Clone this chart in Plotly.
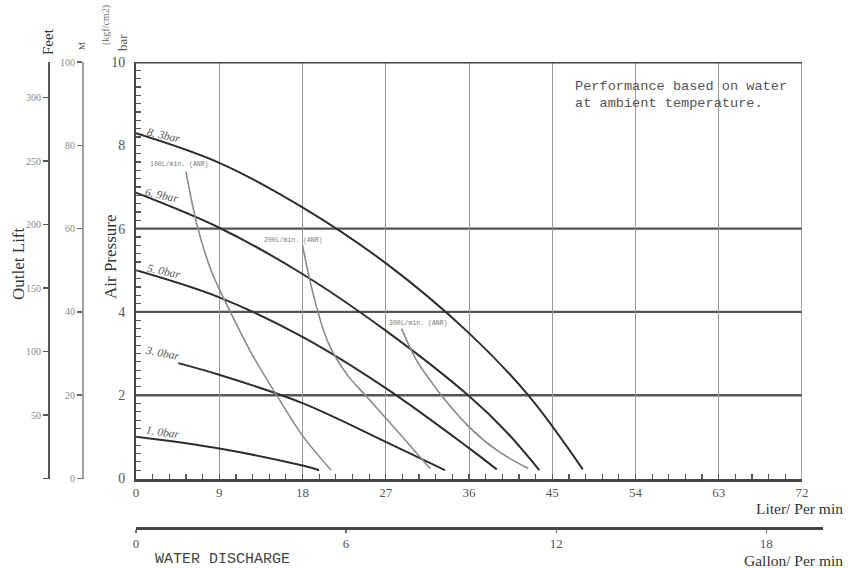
import plotly.graph_objects as go

# ---------------- data ----------------
# pump performance curves: flow (L/min) vs outlet pressure (bar) for each air pressure
curve_names = ["8. 3bar", "6. 9bar", "5. 0bar", "3. 0bar", "1. 0bar"]
flow_83 = [0, 9, 18, 27, 36, 42.4, 48.3]
pres_83 = [8.29, 7.58, 6.51, 5.17, 3.49, 2.0, 0.22]
flow_69 = [0, 9, 18, 27, 36, 40.0, 43.6]
pres_69 = [6.86, 6.02, 4.91, 3.55, 1.98, 1.13, 0.2]
flow_50 = [0, 9, 18, 27, 36, 39.0]
pres_50 = [5.0, 4.35, 3.40, 2.17, 0.73, 0.22]
flow_30 = [4.57, 9, 18, 27, 33.4]
pres_30 = [2.77, 2.49, 1.81, 0.88, 0.2]
flow_10 = [0, 9, 18, 19.8]
pres_10 = [1.0, 0.72, 0.31, 0.2]

# air consumption curves
air_names = ["100L/min. (ANR)", "200L/min. (ANR)", "300L/min. (ANR)"]
air100_flow = [5.4, 6.7, 8.2, 10.2, 12.5, 15.2, 18.1, 21.1]
air100_pres = [7.37, 6.0, 4.95, 4.0, 3.0, 2.0, 1.0, 0.2]
air200_flow = [18.0, 19.3, 20.8, 22.8, 25.0, 28.0, 31.8]
air200_pres = [5.6, 4.3, 3.25, 2.5, 1.95, 1.2, 0.24]
air300_flow = [28.7, 30.3, 31.8, 33.0, 36.0, 39.0, 42.4]
air300_pres = [3.6, 2.85, 2.36, 2.0, 1.24, 0.68, 0.24]

# label anchor points (flow, pressure) and slant
curve_label_flow = [3.0, 2.8, 3.0, 2.9, 2.9]
curve_label_pres = [8.25, 6.8, 4.98, 3.01, 1.12]
curve_label_angle = [13, 12, 12, 11, 8]
air_label_flow = [4.75, 17.0, 30.5]
air_label_pres = [7.53, 5.71, 3.73]

# axes
liter_ticks = [0, 9, 18, 27, 36, 45, 54, 63, 72]
pressure_ticks = [0, 2, 4, 6, 8, 10]
pressure_grid = [2, 4, 6]
meter_ticks = [0, 20, 40, 60, 80, 100]
feet_ticks = [0, 50, 100, 150, 200, 250, 300]
feet_labels = ["", "50", "100", "150", "200", "250", "300"]
gallon_ticks = [0, 6, 12, 18]

M_PER_BAR = 10.0
FT_PER_M = 3.28084
L_PER_GAL = 3.78541

# ---------------- layout frame (window pixels) ----------------
W, H = 848, 568
PL, PR, PT, PB = 136, 802, 62, 478.5
GAL_R = 823
px = lambda v: v / W
py = lambda v: 1 - v / H

x_dom = [px(PL), px(PR)]
y_dom = [py(PB), py(PT)]
liter_max = liter_ticks[-1]
gal_max = (GAL_R - PL) * liter_max / (PR - PL) / L_PER_GAL

serif = "Liberation Serif"
mono = "Liberation Mono"

fig = go.Figure()

curves = [(flow_83, pres_83), (flow_69, pres_69), (flow_50, pres_50),
          (flow_30, pres_30), (flow_10, pres_10)]
for (fx, fy), nm in zip(curves, curve_names):
    fig.add_trace(go.Scatter(x=fx, y=fy, mode="lines", name=nm,
                             line=dict(color="#2e2e2e", width=2, shape="spline", smoothing=1.0),
                             showlegend=False, hoverinfo="skip"))

airs = [(air100_flow, air100_pres), (air200_flow, air200_pres), (air300_flow, air300_pres)]
for (fx, fy), nm in zip(airs, air_names):
    fig.add_trace(go.Scatter(x=fx, y=fy, mode="lines", name=nm,
                             line=dict(color="#8a8a8a", width=1.6, shape="spline", smoothing=1.0),
                             showlegend=False, hoverinfo="skip"))

# invisible carriers so the secondary scales are rendered
fig.add_trace(go.Scatter(x=[0], y=[0], yaxis="y2", mode="markers",
                         marker=dict(opacity=0), showlegend=False, hoverinfo="skip"))
fig.add_trace(go.Scatter(x=[0], y=[0], yaxis="y3", mode="markers",
                         marker=dict(opacity=0), showlegend=False, hoverinfo="skip"))
fig.add_trace(go.Scatter(x=[0], y=[0], xaxis="x2", yaxis="y", mode="markers",
                         marker=dict(opacity=0), showlegend=False, hoverinfo="skip"))

# horizontal grid lines & frame
for lv in pressure_grid:
    fig.add_shape(type="line", xref="x domain", x0=0, x1=1, yref="y", y0=lv, y1=lv,
                  line=dict(color="#555555", width=2.4), layer="below")
fig.add_shape(type="line", xref="x domain", x0=0, x1=1, yref="y",
              y0=pressure_ticks[-1], y1=pressure_ticks[-1],
              line=dict(color="#444444", width=3), layer="above")
fig.add_shape(type="line", xref="x", x0=liter_max, x1=liter_max, yref="y domain", y0=0, y1=1,
              line=dict(color="#777777", width=1.3), layer="below")

ann = []
for nm, fx, fy, ang in zip(curve_names, curve_label_flow, curve_label_pres, curve_label_angle):
    ann.append(dict(x=fx, y=fy, xref="x", yref="y", text=f"<i>{nm}</i>", showarrow=False,
                    textangle=ang, font=dict(family=serif, size=11.5, color="#555555")))
for nm, fx, fy in zip(air_names, air_label_flow, air_label_pres):
    ann.append(dict(x=fx, y=fy, xref="x", yref="y", text=nm, showarrow=False,
                    font=dict(family=mono, size=6.5, color="#777777")))

def pa(text, x, y, size, color="#333333", angle=0, xa="center", family=serif):
    ann.append(dict(x=px(x), y=py(y), xref="paper", yref="paper", text=text, showarrow=False,
                    textangle=angle, xanchor=xa, yanchor="middle",
                    font=dict(family=family, size=size, color=color)))

pa("Feet", 48, 42, 15, "#333333", -90)
pa("M", 82, 46, 9, "#555555", -90)
pa("Outlet Lift", 18, 264, 17, "#333333", -90)
pa("Air Pressure", 110, 257, 17, "#333333", -90)
pa("(kgf/cm2)", 106, 25, 10, "#777777", -90)
pa("bar", 123, 43, 13, "#555555", -90)
pa("Liter/ Per min", 845, 508, 15.5, "#333333", 0, "right")
pa("Gallon/ Per min", 845, 560, 15.5, "#333333", 0, "right")
pa("WATER DISCHARGE", 153, 559, 15, "#444444", 0, "left", mono)
pa("Performance based on water", 573, 87, 13.6, "#555555", 0, "left", mono)
pa("at ambient temperature.", 573, 104, 13.6, "#555555", 0, "left", mono)

tickfont_main = dict(family=serif, size=13, color="#555555")
tickfont_small = dict(family=serif, size=10, color="#888888")

fig.update_layout(
    width=W, height=H,
    margin=dict(l=0, r=0, t=0, b=0, pad=0),
    paper_bgcolor="white", plot_bgcolor="rgba(0,0,0,0)",
    showlegend=False,
    annotations=ann,
    xaxis=dict(domain=x_dom, range=[0, liter_max], tickmode="linear", tick0=0, dtick=9,
               showgrid=True, gridcolor="#999999", gridwidth=1, zeroline=False,
               showline=True, linecolor="#444444", linewidth=3,
               ticks="inside", ticklen=5, tickcolor="#555555", tickwidth=1.2,
               minor=dict(dtick=1.8, ticks="inside", ticklen=5, tickcolor="#555555",
                          tickwidth=1.2, showgrid=False),
               tickfont=tickfont_main, anchor="y", automargin=False, fixedrange=True),
    yaxis=dict(domain=y_dom, range=[0, pressure_ticks[-1]], tickmode="linear", tick0=0, dtick=2,
               showgrid=False, zeroline=False,
               showline=True, linecolor="#444444", linewidth=2,
               ticks="inside", ticklen=5, tickcolor="#555555", tickwidth=1.2,
               minor=dict(dtick=0.2, ticks="inside", ticklen=5, tickcolor="#555555",
                          tickwidth=1.2, showgrid=False),
               ticklabelstandoff=6,
               tickfont=dict(family=serif, size=14, color="#555555"),
               anchor="x", automargin=False, fixedrange=True),
    yaxis2=dict(overlaying="y", anchor="free", position=px(82), side="left",
                range=[0, pressure_ticks[-1] * M_PER_BAR], tickmode="array", tickvals=meter_ticks,
                showgrid=False, zeroline=False, showline=True, linecolor="#a0a0a0", linewidth=1.5,
                ticks="outside", ticklen=5, tickcolor="#666666", tickwidth=1.5,
                tickfont=tickfont_small, automargin=False, fixedrange=True),
    yaxis3=dict(overlaying="y", anchor="free", position=px(49), side="left",
                range=[0, pressure_ticks[-1] * M_PER_BAR * FT_PER_M], tickmode="array",
                tickvals=feet_ticks, ticktext=feet_labels,
                showgrid=False, zeroline=False, showline=True, linecolor="#555555", linewidth=2,
                ticks="outside", ticklen=5, tickcolor="#555555", tickwidth=1.5,
                tickfont=tickfont_small, automargin=False, fixedrange=True),
    xaxis2=dict(domain=[px(PL), px(GAL_R)], anchor="free", position=py(528),
                range=[0, gal_max], tickmode="array", tickvals=gallon_ticks,
                showgrid=False, zeroline=False, showline=True, linecolor="#444444", linewidth=2.5,
                ticks="outside", ticklen=3, tickcolor="#666666", tickwidth=1.2,
                tickfont=tickfont_main, automargin=False, fixedrange=True),
)

fig.write_html("out.html", config={"displayModeBar": False, "staticPlot": True},
               post_script="document.body.style.margin='0';document.body.style.overflow='hidden';")
